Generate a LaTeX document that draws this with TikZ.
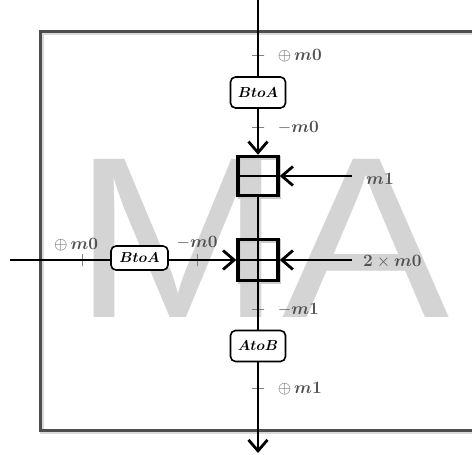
\documentclass[tikz,border=0pt]{standalone}
\usepackage{fontspec}
\usepackage{bm}
\usetikzlibrary{arrows.meta, positioning, calc}
\newfontfamily\watermarkfont{Liberation Sans}
\definecolor{framegray}{HTML}{4D4D4D}
\definecolor{markgray}{HTML}{D4D4D4}
\definecolor{labelgray}{HTML}{505050}

\begin{document}
\begin{tikzpicture}[
        x=1pt, y=-1pt,
        frame/.style={draw=framegray, line width=3pt, preaction={draw=black!15, line width=4pt, transform canvas={shift={(1.5pt,-2pt)}}}},
        conv/.style={rectangle, draw=black, line width=1.6pt, fill=white, rounded corners=5pt, inner sep=0pt, minimum width=55pt, minimum height=31pt, font=\fontsize{15.5}{17}\selectfont},
        junction/.style={rectangle, draw=black, line width=3.5pt, inner sep=0pt, minimum width=40pt, minimum height=39pt, preaction={draw=black!20, line width=3.5pt, transform canvas={shift={(1.5pt,-1.5pt)}}}},
        flow/.style={line width=2.8pt, draw=black},
        into/.style={flow, -{Straight Barb[length=11pt, width=19pt]}},
        tick/.style={behind path, rectangle, draw=gray, line width=0.9pt, inner sep=0pt, minimum width=12pt, minimum height=0pt},
        tickh/.style={behind path, rectangle, draw=gray, line width=0.9pt, inner sep=0pt, minimum width=0pt, minimum height=12pt},
        lbl/.style={text=labelgray, font=\LARGE, inner sep=1pt}
    ]
        \useasboundingbox (0,0) rectangle (472,455);

        % ----------------------------------------------------
        % BACKGROUND (watermark and frame)
        % ----------------------------------------------------
        \node[text=markgray, anchor=base west, inner sep=0pt, font={\fontsize{230}{230}\selectfont\watermarkfont}] (watermark) at (73.5,317) {\scalebox{1.09}[1]{MA}};
        \draw[frame] (472,31) -- (40,31) -- (40,430) -- (472,430);

        % ----------------------------------------------------
        % NODE PLACEMENT
        % ----------------------------------------------------
        \coordinate (src) at (258,0);
        \node[conv] (btoaTop) at (258,92.5) {$\bm{BtoA}$};
        \node[junction] (mixTop) at (258,176) {};
        \node[junction, minimum height=41pt] (mixBot) at (258,260) {};
        \node[conv] (atob) at (258,346) {$\bm{AtoB}$};
        \coordinate (sink) at (258,453);

        \coordinate (west) at (10,260);
        \node[conv, minimum width=57pt, minimum height=24pt] (btoaLeft) at (139.5,258) {$\bm{BtoA}$};

        \coordinate (inM1) at (352,176);
        \coordinate (inM0) at (352,260);
        \node[lbl, anchor=west] (lblM1) at (365,179) {$\bm{m1}$};
        \node[lbl, anchor=west] (lblM0) at (362,262) {$\bm{2}\times\bm{m0}$};

        % ----------------------------------------------------
        % FLOWS
        % ----------------------------------------------------
        \draw[flow] (mixTop.west) -- (mixTop.east);
        \draw[flow] (mixBot.west) -- (mixBot.east);
        \draw[flow] (mixBot.north) -- (mixBot.south);

        \draw[flow] (src) -- (btoaTop) node[tick, pos=0.73, label={[lbl, label distance=11pt]right:$\oplus\,\bm{m0}$}] {};
        \draw[into] (btoaTop) -- (mixTop) node[tick, pos=0.4, label={[lbl, label distance=11pt]right:$-\bm{m0}$}] {};
        \draw[flow] (mixTop) -- (mixBot);
        \draw[flow] (mixBot) -- (atob) node[tick, pos=0.58, label={[lbl, label distance=11pt]right:$-\bm{m1}$}] {};
        \draw[into] (atob) -- (sink) node[tick, pos=0.29, label={[lbl, label distance=11pt]right:$\oplus\,\bm{m1}$}] {};

        \draw[flow] (west) -- (west -| btoaLeft.west) node[tickh, pos=0.72, label={[lbl, label distance=0pt, xshift=-6pt]above:$\oplus\,\bm{m0}$}] {};
        \draw[into] (west -| btoaLeft.east) -- (mixBot) node[tickh, pos=0.42, label={[lbl, label distance=2pt]above:$-\bm{m0}$}] {};

        \draw[into] (inM1) -- (mixTop);
        \draw[into] (inM0) -- (mixBot);

    \end{tikzpicture}
\end{document}
